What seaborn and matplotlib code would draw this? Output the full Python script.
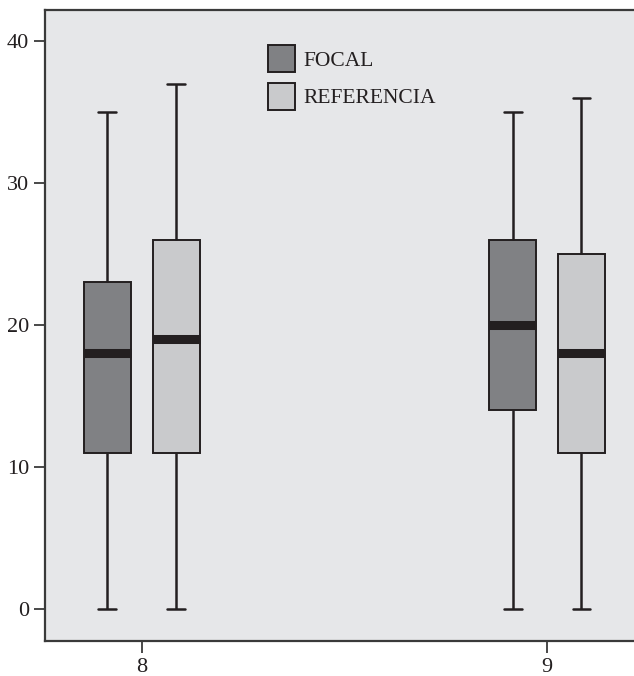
import numpy as np
import pandas as pd
import matplotlib
matplotlib.use("Agg")
import matplotlib.pyplot as plt
import seaborn as sns

# Five-number summaries (min, Q1, median, Q3, max)
categories = ["8", "9"]
groups = ["FOCAL", "REFERENCIA"]
focal_8 = [0, 11, 18, 23, 35]
ref_8 = [0, 11, 19, 26, 37]
focal_9 = [0, 14, 20, 26, 35]
ref_9 = [0, 11, 18, 25, 36]
y_ticks = [0, 10, 20, 30, 40]

rows = []
for cat, grp, vals in [("8", "FOCAL", focal_8), ("8", "REFERENCIA", ref_8),
                       ("9", "FOCAL", focal_9), ("9", "REFERENCIA", ref_9)]:
    for v in vals:
        rows.append({"grado": cat, "grupo": grp, "valor": v})
df = pd.DataFrame(rows)

sns.set_theme(style="white")
plt.rcParams["font.family"] = ["Liberation Serif", "DejaVu Serif"]

fig = plt.figure(figsize=(6.34, 6.76), dpi=100)
ax = fig.add_axes([45 / 634, 35 / 676, 592 / 634, 631 / 676])
ax.set_facecolor("#e6e7e9")

edge = "#231f20"
palette = {"FOCAL": "#808184", "REFERENCIA": "#c9cacc"}
sns.boxplot(data=df, x="grado", y="valor", hue="grupo", order=categories,
            hue_order=groups, palette=palette, width=0.34, gap=0.31,
            whis=np.inf, linecolor=edge, linewidth=1.4, saturation=1,
            capwidths=0.044,
            whiskerprops=dict(linewidth=1.8, color=edge),
            capprops=dict(linewidth=1.8, color=edge),
            medianprops=dict(linewidth=6.5, color=edge, solid_capstyle="butt"),
            ax=ax)

ax.set_xlim(-0.239, 1.222)
ax.set_ylim(-2.25, 42.18)
ax.set_yticks(y_ticks)
ax.set_xlabel("")
ax.set_ylabel("")
ax.tick_params(axis="both", which="both", direction="out", length=8, width=1.3,
               color="#3a3a3a", labelsize=16, pad=3.5, left=True, bottom=True,
               labelcolor="#231f20")
ax.tick_params(axis="x", length=8.5, pad=4)
for side in ["left", "bottom", "top"]:
    ax.spines[side].set_visible(True)
    ax.spines[side].set_color("#3a3a3a")
    ax.spines[side].set_linewidth(1.6)
ax.spines["right"].set_visible(False)

leg = ax.legend(loc="upper left", bbox_to_anchor=(0.376, 0.944), frameon=False,
                fontsize=15.5, handlelength=1.25, handleheight=1.56,
                handletextpad=0.4, labelspacing=0.47, borderaxespad=0,
                borderpad=0)
for h in leg.get_patches():
    h.set_edgecolor(edge)
    h.set_linewidth(1.4)
for t in leg.get_texts():
    t.set_color("#231f20")

fig.savefig("out.png", dpi=100)
